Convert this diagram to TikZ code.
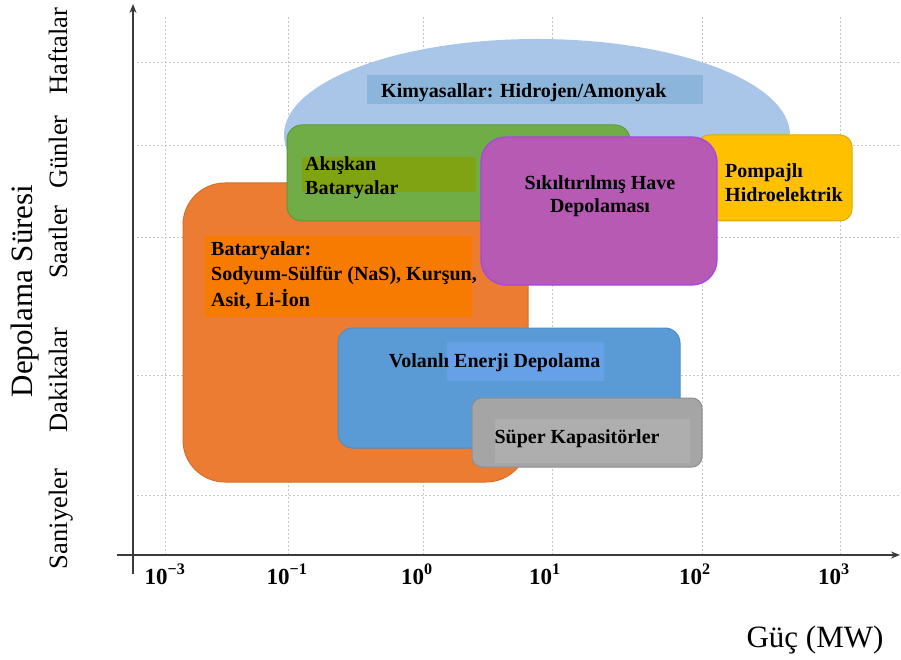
\documentclass[tikz,border=0pt]{standalone}
\usepackage{fontspec}
\setmainfont{Liberation Serif}[BoldFont={Liberation Serif Bold}]
\usetikzlibrary{arrows.meta,shapes.geometric}
\definecolor{ellfill}{HTML}{A9C6E8}
\definecolor{ellin}{HTML}{8CB5DB}
\definecolor{orfill}{HTML}{EC7C31}
\definecolor{orin}{HTML}{F67B00}
\definecolor{grfill}{HTML}{70AD47}
\definecolor{grdraw}{HTML}{5C9A38}
\definecolor{grin}{HTML}{80A313}
\definecolor{pufill}{HTML}{B65AB4}
\definecolor{pudraw}{HTML}{A347E6}
\definecolor{yefill}{HTML}{FFC000}
\definecolor{yedraw}{HTML}{E0A800}
\definecolor{blfill}{HTML}{5B9BD5}
\definecolor{bldraw}{HTML}{4D8CC6}
\definecolor{blin}{HTML}{66A0E6}
\definecolor{gyfill}{HTML}{A5A5A5}
\definecolor{gydraw}{HTML}{8E8E8E}
\definecolor{gyin}{HTML}{AEAEAE}
\definecolor{axiscol}{HTML}{3A3A3A}
\begin{document}
\begin{tikzpicture}[x=1pt,y=-1pt,
  gridline/.style={draw=black!22, dash pattern=on 2pt off 2pt, line width=0.7pt},
  region/.style={inner sep=0pt, outer sep=0pt, line width=1pt},
  inbox/.style={inner sep=0pt, outer sep=0pt, draw=none},
  lbl/.style={font=\fontsize{20}{25}\selectfont\bfseries, inner sep=0pt, text=black},
  ytick/.style={font=\fontsize{26.5}{30}\selectfont, rotate=90, anchor=base, inner sep=0pt},
  xtick/.style={font=\fontsize{23}{26}\selectfont\bfseries, anchor=base, inner sep=0pt},
  axisline/.style={draw=axiscol, line width=1.6pt, -{Stealth[length=9pt,width=7pt]}}]
\useasboundingbox (0,0) rectangle (901,660);
% grid
\foreach \gx in {165,288,423,552,702,840} \draw[gridline] (\gx,17) -- (\gx,555);
\foreach \gy in {62,145,237,375,495} \draw[gridline] (137,\gy) -- (901,\gy);
% regions
\node[region, ellipse, fill=ellfill, minimum width=506pt, minimum height=192pt] (chem) at (537,135) {};
\node[region, fill=orfill, draw=orfill!90!black, rounded corners=42pt, minimum width=345pt, minimum height=299pt] (bat) at (355.5,332.5) {};
\node[region, fill=grfill, draw=grdraw, rounded corners=15pt, minimum width=343pt, minimum height=96pt] (flow) at (458.5,173) {};
\node[region, fill=yefill, draw=yedraw, rounded corners=12pt, minimum width=155pt, minimum height=86pt] (hydro) at (774.5,178) {};
\node[region, fill=pufill, draw=pudraw, line width=1.3pt, rounded corners=25pt, minimum width=236pt, minimum height=148pt] (caes) at (599,211) {};
\node[region, fill=blfill, draw=bldraw, rounded corners=15pt, minimum width=342pt, minimum height=120pt] (fly) at (509,388) {};
\node[region, fill=gyfill, draw=gydraw, rounded corners=10pt, minimum width=230pt, minimum height=69pt] (cap) at (587,432.5) {};
% inner label boxes
\node[inbox, fill=ellin, minimum width=336pt, minimum height=29pt] (chembox) at (535,89.5) {};
\node[inbox, fill=grin, minimum width=174pt, minimum height=35pt] (flowbox) at (389,174.5) {};
\node[inbox, fill=orin, minimum width=267pt, minimum height=81pt] (batbox) at (338.5,276.5) {};
\node[inbox, fill=blin, minimum width=157pt, minimum height=39pt] (flybox) at (525.5,361.5) {};
\node[inbox, fill=gyin, minimum width=195pt, minimum height=44pt] (capbox) at (592.5,440.5) {};
% texts
\node[lbl, anchor=base west] (chemt) at (381,98) {Kimyasallar: Hidrojen/Amonyak};
\node[lbl, anchor=base west] (flowt1) at (305,171) {Akışkan};
\node[lbl, anchor=base west] (flowt2) at (305,195) {Bataryalar};
\node[lbl, anchor=base west] (batt1) at (211,255) {Bataryalar:};
\node[lbl, anchor=base west] (batt2) at (211,280.5) {Sodyum-Sülfür (NaS), Kurşun,};
\node[lbl, anchor=base west] (batt3) at (211,306) {Asit, Li-İon};
\node[lbl, anchor=base] (caest1) at (600,190) {Sıkıltırılmış Have};
\node[lbl, anchor=base] (caest2) at (600,213) {Depolaması};
\node[lbl, anchor=base west] (hydrot1) at (725,178) {Pompajlı};
\node[lbl, anchor=base west] (hydrot2) at (725,202) {Hidroelektrik};
\node[lbl, anchor=base] (flyt) at (494.5,367) {Volanlı Enerji Depolama};
\node[lbl, anchor=base] (capt) at (577,443) {Süper Kapasitörler};
% axes
\coordinate (yb) at (133,574);
\coordinate (yt) at (133,4);
\coordinate (xl) at (117,555);
\coordinate (xr) at (900,555);
\draw[axisline] (yb) -- (yt);
\draw[axisline] (xl) -- (xr);
% x tick labels
\node[xtick] (t1) at (165,584) {10\textsuperscript{−3}};
\node[xtick] (t2) at (287,584) {10\textsuperscript{−1}};
\node[xtick] (t3) at (417,584) {10\textsuperscript{0}};
\node[xtick] (t4) at (545,584) {10\textsuperscript{1}};
\node[xtick] (t5) at (695,584) {10\textsuperscript{2}};
\node[xtick] (t6) at (834,584) {10\textsuperscript{3}};
% y tick labels
\node[ytick] (l1) at (67,51) {Haftalar};
\node[ytick] (l2) at (67,152) {Günler};
\node[ytick] (l3) at (67,242) {Saatler};
\node[ytick] (l4) at (67,380) {Dakikalar};
\node[ytick] (l5) at (67,519) {Saniyeler};
% axis titles
\node[font=\fontsize{31}{34}\selectfont, rotate=90, anchor=base, inner sep=0pt] (ytitle) at (32,291) {Depolama Süresi};
\node[font=\fontsize{31}{34}\selectfont, anchor=base, inner sep=0pt] (xtitle) at (815,647) {Güç (MW)};
\end{tikzpicture}
\end{document}
